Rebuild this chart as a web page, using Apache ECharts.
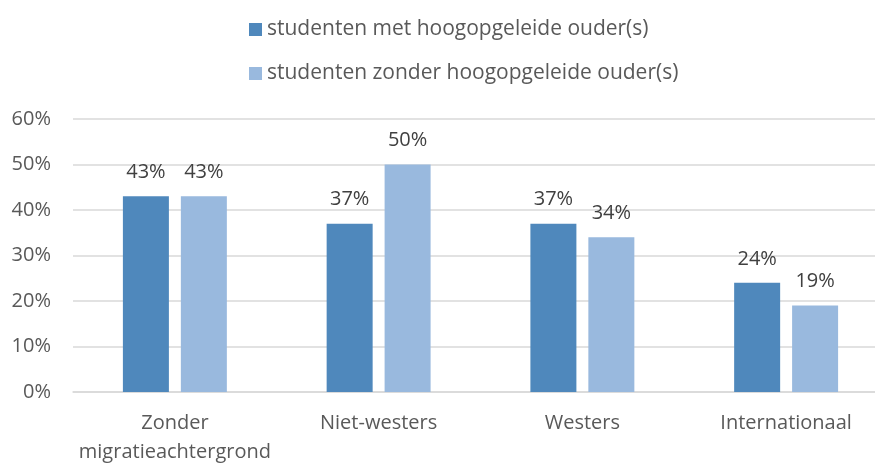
<!DOCTYPE html>
<html lang="nl">
<head>
    <meta charset="UTF-8">
    <title>Studenten naar migratieachtergrond</title>
    <script src="https://cdn.jsdelivr.net/npm/echarts@6.0.0/dist/echarts.min.js"></script>
    <style>
        html, body { margin: 0; padding: 0; background: #fff; }
        #chart { width: 875px; height: 464px; }
    </style>
</head>
<body>
    <div id="chart"></div>
    <script>
        const categories = ['Zonder\nmigratieachtergrond', 'Niet-westers', 'Westers', 'Internationaal'];
        const seriesNames = ['studenten met hoogopgeleide ouder(s)', 'studenten zonder hoogopgeleide ouder(s)'];
        const metHoogopgeleid = [43, 37, 37, 24];
        const zonderHoogopgeleid = [43, 50, 34, 19];
        const yTicks = [0, 10, 20, 30, 40, 50, 60];

        const font = 'Open Sans';
        const chart = echarts.init(document.getElementById('chart'));

        const labelStyle = {
            show: true,
            position: 'top',
            distance: 14,
            formatter: p => p.value + '%',
            color: '#404040',
            fontSize: 20,
            fontFamily: font
        };

        chart.setOption({
            animation: false,
            legend: {
                orient: 'vertical',
                left: 244,
                top: 14,
                itemWidth: 13,
                itemHeight: 13,
                itemGap: 23,
                icon: 'rect',
                textStyle: { color: '#595959', fontSize: 21, fontFamily: font },
                data: seriesNames
            },
            grid: {
                left: 73, top: 119, width: 815, height: 273,
                containLabel: false,
                outerBoundsMode: 'none'
            },
            xAxis: {
                type: 'category',
                data: categories,
                axisLine: { lineStyle: { color: '#d9d9d9', width: 1.5 } },
                axisTick: { show: false },
                axisLabel: {
                    interval: 0,
                    color: '#595959',
                    fontSize: 20,
                    fontFamily: font,
                    margin: 17,
                    lineHeight: 29
                }
            },
            yAxis: {
                type: 'value',
                min: yTicks[0],
                max: yTicks[yTicks.length - 1],
                interval: 10,
                axisLine: { show: false },
                axisTick: { show: false },
                splitLine: { lineStyle: { color: '#d9d9d9', width: 1.5 } },
                axisLabel: {
                    color: '#595959',
                    fontSize: 20,
                    fontFamily: font,
                    margin: 22,
                    formatter: v => v + '%'
                }
            },
            series: [
                {
                    name: seriesNames[0],
                    type: 'bar',
                    data: metHoogopgeleid,
                    barWidth: 46,
                    barGap: '26%',
                    itemStyle: { color: '#4f88bc' },
                    label: labelStyle
                },
                {
                    name: seriesNames[1],
                    type: 'bar',
                    data: zonderHoogopgeleid,
                    barWidth: 46,
                    itemStyle: { color: '#99b9de' },
                    label: labelStyle
                }
            ]
        });
    </script>
</body>
</html>
